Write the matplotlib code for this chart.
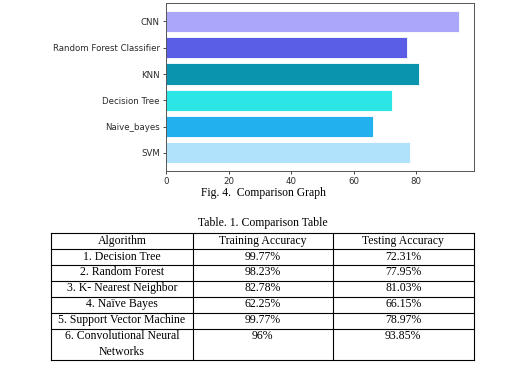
import matplotlib.pyplot as plt

# bar chart data (bottom to top)
models = ["SVM", "Naive_bayes", "Decision Tree", "KNN", "Random Forest Classifier", "CNN"]
scores = [78.1, 66.15, 72.31, 81.03, 77.2, 93.85]
bar_colors = ["#b0e2fb", "#22b0ee", "#2ce6e6", "#0a94ad", "#5a5ee6", "#aaa6f9"]

# table data
tbl_header = ["Algorithm", "Training Accuracy", "Testing Accuracy"]
tbl_algos = ["1. Decision Tree", "2. Random Forest", "3. K- Nearest Neighbor", "4. Naïve Bayes",
             "5. Support Vector Machine", "6. Convolutional Neural\nNetworks"]
tbl_train = ["99.77%", "98.23%", "82.78%", "62.25%", "99.77%", "96%"]
tbl_test = ["72.31%", "77.95%", "81.03%", "66.15%", "78.97%", "93.85%"]

W, H = 516, 368
fig = plt.figure(figsize=(W / 100, H / 100), dpi=100)

# chart
ax = fig.add_axes([166 / W, 1 - 171 / H, (474 - 166) / W, (171 - 3.3) / H])
ax.barh(models, scores, color=bar_colors, height=0.8, edgecolor="white", linewidth=0.6)
ax.tick_params(labelsize=6.2, length=2.5, width=0.6, colors="#2a2a2a", pad=2)
for s in ax.spines.values():
    s.set_linewidth(0.7)
    s.set_color("#555555")
ax.set_xticks([0, 20, 40, 60, 80])

fig.text(263 / W, 1 - 193 / H, "Fig. 4.  Comparison Graph", family="Liberation Serif",
         fontsize=8.4, ha="center", va="center")

# table drawn on an overlay in pixel coordinates
tx = fig.add_axes([0, 0, 1, 1])
tx.set_xlim(0, W)
tx.set_ylim(H, 0)
tx.axis("off")

tx.text(263, 223, "Table. 1. Comparison Table", family="Liberation Serif",
        fontsize=8.5, ha="center", va="center")

col_edges = [51.3, 192.7, 332.7, 473.7]
row_h = 15.9
row_heights = [row_h] * 6 + [31.0]
top = 233.3
row_tops = [top]
for h in row_heights:
    row_tops.append(row_tops[-1] + h)

for y in row_tops:
    tx.plot([col_edges[0], col_edges[-1]], [y, y], color="black", lw=0.8)
for x in col_edges:
    tx.plot([x, x], [row_tops[0], row_tops[-1]], color="black", lw=0.8)

rows = [tbl_header] + [list(r) for r in zip(tbl_algos, tbl_train, tbl_test)]
for i, row in enumerate(rows):
    for j, val in enumerate(row):
        cx = (col_edges[j] + col_edges[j + 1]) / 2
        tx.text(cx, row_tops[i] + 1.3, val, family="Liberation Serif", fontsize=8.5,
                ha="center", va="top", linespacing=1.45)

fig.savefig("out.png", dpi=100)
